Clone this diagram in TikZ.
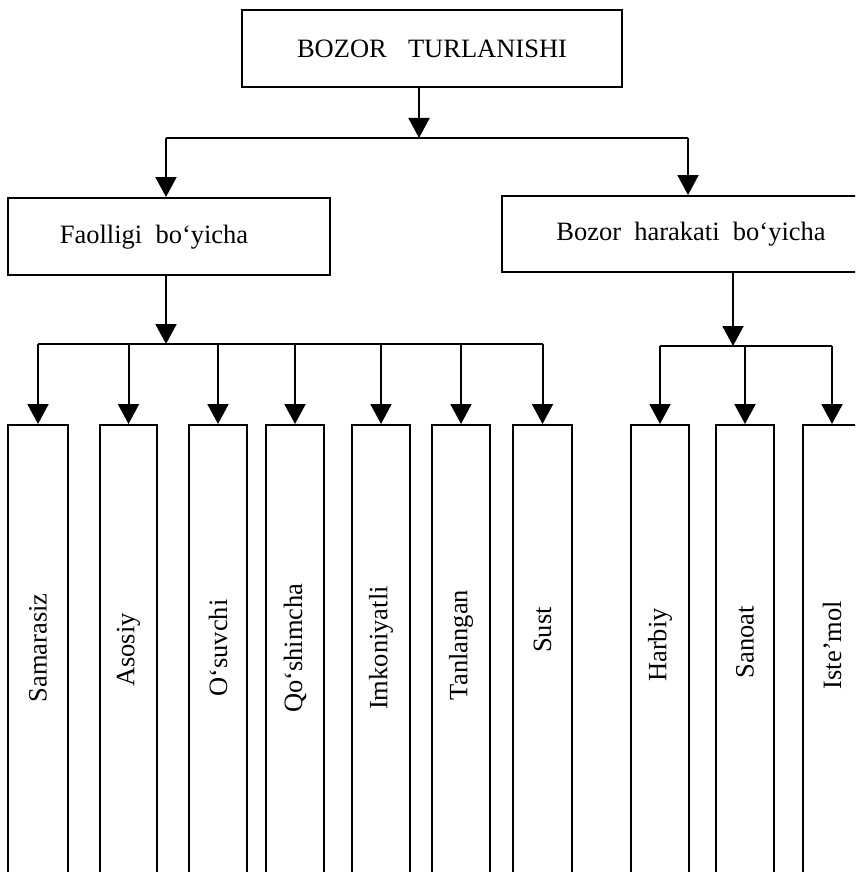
\documentclass[tikz,border=0pt]{standalone}
\usepackage{fontspec}
\setmainfont{Liberation Serif}
\usetikzlibrary{arrows.meta}

\tikzset{
    box/.style={draw, line width=2pt, rectangle, inner sep=0pt},
    col/.style={box, anchor=north, minimum width=58pt, minimum height=520pt},
    lbl/.style={font=\fontsize{26.5}{32}\selectfont, inner sep=0pt},
    arr/.style={line width=2pt, -{Triangle[width=21pt,length=20pt]}},
    bar/.style={line width=2pt},
}

\begin{document}
\begin{tikzpicture}[x=1pt, y=-1pt]
        \path[use as bounding box, clip] (0,0) rectangle (855,872);

        % top level
        \node[box, minimum width=380pt, minimum height=77pt] (root) at (432,48.5) {};
        \node[lbl] (roott) at (432,49) {BOZOR\hspace{0.8em}TURLANISHI};

        % second level
        \node[box, minimum width=322pt, minimum height=77pt] (fao) at (169,236.5) {};
        \node[lbl] (faot) at (154,237) {Faolligi\hspace{0.5em}bo‘yicha};
        \node[box, minimum width=378pt, minimum height=76pt] (har) at (691,234) {};
        \node[lbl] (hart) at (691,234) {Bozor\hspace{0.5em}harakati\hspace{0.5em}bo‘yicha};

        \coordinate (tbar) at (419,138);
        \coordinate (tl) at (166,138);
        \coordinate (tr) at (688,138);
        \draw[arr] (root.south -| tbar) -- (tbar);
        \draw[bar] (tl) -- (tr);
        \draw[arr] (tl) -- (fao.north -| tl);
        \draw[arr] (tr) -- (har.north -| tr);

        % columns
        \foreach \n/\x/\w/\y/\t in {1/38/60/648/Samarasiz, 2/128.5/57/650/Asosiy, 3/218/58/648/O‘suvchi,
                                4/295/58/648/Qo‘shimcha, 5/381/58/648/Imkoniyatli, 6/461/58/645/Tanlangan,
                                7/542.5/59/630/Sust, 8/660/58/645/Harbiy, 9/745/58/642/Sanoat, 10/832/58/645/Iste’mol}
        {
            \node[col, minimum width=\w pt] (c\n) at (\x,424) {};
            \node[lbl, rotate=90] (t\n) at (\x,\y) {\t};
        }

        % Faolligi bo'yicha
        \coordinate (lbar) at (166,344);
        \draw[arr] (fao.south -| lbar) -- (lbar);
        \draw[bar] (c1.north |- lbar) -- (c7.north |- lbar);
        \foreach \n in {1,...,7}
            \draw[arr] (c\n.north |- lbar) -- (c\n.north);

        % Bozor harakati bo'yicha
        \coordinate (rbar) at (733,346);
        \draw[arr] (har.south -| rbar) -- (rbar);
        \draw[bar] (c8.north |- rbar) -- (c10.north |- rbar);
        \foreach \n in {8,9,10}
            \draw[arr] (c\n.north |- rbar) -- (c\n.north);
\end{tikzpicture}
\end{document}
